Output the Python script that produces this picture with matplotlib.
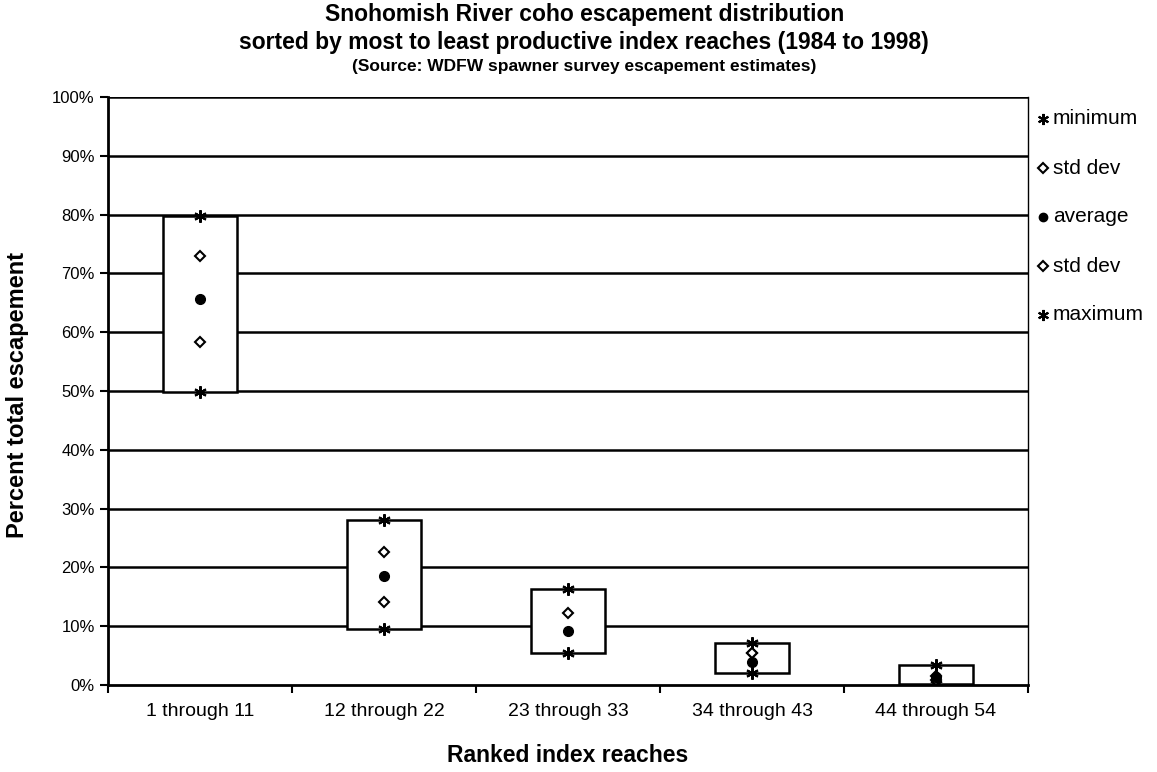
import numpy as np
import matplotlib
matplotlib.use('Agg')
import matplotlib.pyplot as plt
from matplotlib.lines import Line2D

plt.rcParams['font.family'] = ['Liberation Sans', 'DejaVu Sans']

# data (percent of total escapement)
groups = ['1 through 11', '12 through 22', '23 through 33',
          '34 through 43', '44 through 54']
minimum = [49.9, 9.5, 5.5, 2.0, 0.1]
std_low = [58.3, 14.2, np.nan, 5.4, 0.8]
average = [65.6, 18.6, 9.1, 3.9, 1.3]
std_high = [72.9, 22.7, 12.2, 5.4, 1.6]
maximum = [79.7, 28.1, 16.3, 7.1, 3.4]

legend_labels = ['minimum', 'std dev', 'average', 'std dev', 'maximum']

STAR = (6, 2, 0)


def main():
    W, H = 1157, 772
    fig = plt.figure(figsize=(W / 100, H / 100), dpi=100)
    ax = fig.add_axes([108 / W, 1 - 685 / H, 920 / W, 588 / H])

    x = np.arange(len(groups))
    # boxes from minimum to maximum
    ax.bar(x, np.array(maximum) - np.array(minimum), bottom=minimum,
           width=0.4, facecolor='white', edgecolor='black', linewidth=1.8,
           zorder=3)

    ax.plot(x, minimum, ls='none', marker=STAR, ms=9, mew=1.5,
            color='black', zorder=4)
    ax.plot(x, maximum, ls='none', marker=STAR, ms=9, mew=1.5,
            color='black', zorder=4)
    ax.plot(x, std_low, ls='none', marker='D', ms=5, mew=1.5,
            mfc='white', mec='black', zorder=4)
    ax.plot(x, std_high, ls='none', marker='D', ms=5, mew=1.5,
            mfc='white', mec='black', zorder=4)
    ax.plot(x, average, ls='none', marker='o', ms=7, color='black', zorder=4)

    ax.set_xlim(-0.5, len(groups) - 0.5)
    ax.set_ylim(0, 100)
    ax.set_yticks(np.arange(0, 101, 10))
    ax.set_yticklabels(['%d%%' % v for v in range(0, 101, 10)], fontsize=12)
    ax.set_xticks(x)
    ax.set_xticklabels(groups, fontsize=14)
    ax.tick_params(axis='x', length=0, pad=13)
    ax.set_xticks(np.arange(-0.5, len(groups)), minor=True)
    ax.tick_params(axis='x', which='minor', length=6, width=1.5,
                   direction='out')
    ax.tick_params(axis='y', length=6, width=1.5, direction='out')

    for v in range(10, 101, 10):
        ax.axhline(v, color='black', lw=1.8, zorder=1)

    ax.spines['top'].set_visible(False)
    ax.spines['left'].set_linewidth(2)
    ax.spines['bottom'].set_linewidth(2)
    ax.spines['right'].set_linewidth(1)

    ax.set_xlabel('Ranked index reaches', fontsize=16.5, fontweight='bold',
                  labelpad=17)
    fig.text(18 / W, 1 - 395 / H, 'Percent total escapement', rotation=90,
             ha='center', va='center', fontsize=17, fontweight='bold')

    fig.text(0.505, 1 - 15 / H, 'Snohomish River coho escapement distribution',
             ha='center', va='center', fontsize=16.5, fontweight='bold')
    fig.text(0.505, 1 - 42 / H,
             'sorted by most to least productive index reaches (1984 to 1998)',
             ha='center', va='center', fontsize=16.5, fontweight='bold')
    fig.text(0.505, 1 - 66 / H,
             '(Source: WDFW spawner survey escapement estimates)',
             ha='center', va='center', fontsize=12.5, fontweight='bold')

    # legend drawn by hand so the rows sit where the reference has them
    styles = [
        dict(marker=STAR, ms=8, mew=1.5, color='black'),
        dict(marker='D', ms=5, mew=1.5, mfc='white', mec='black'),
        dict(marker='o', ms=6, color='black'),
        dict(marker='D', ms=5, mew=1.5, mfc='white', mec='black'),
        dict(marker=STAR, ms=8, mew=1.5, color='black'),
    ]
    for i, (label, st) in enumerate(zip(legend_labels, styles)):
        yy = 1 - (119 + 49 * i) / H
        fig.add_artist(Line2D([1043 / W], [yy], ls='none',
                              transform=fig.transFigure, **st))
        fig.text(1053 / W, yy, label, ha='left', va='center', fontsize=15)

    fig.savefig('out.png', dpi=100)


if __name__ == '__main__':
    main()
